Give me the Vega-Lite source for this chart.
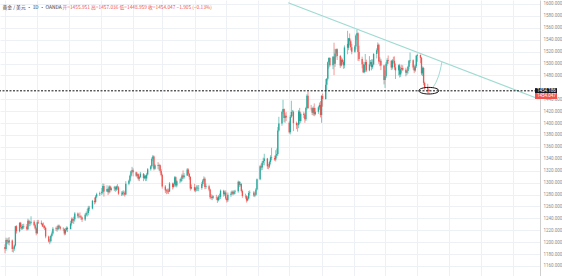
{
"$schema": "https://vega.github.io/schema/vega-lite/v6.json",
"width": 540, "height": 276,
"autosize": {"type": "none"},
"padding": {"left": 0, "top": 0, "right": 22, "bottom": 0},
"background": "white",
"config": {"view": {"stroke": null}, "font": "Noto Sans CJK SC", "axis": {"labelOverlap": false}},
"datasets": {
"candles": [
{"d":"2018-10-01","o":1192.0,"h":1196.5,"l":1181.5,"c":1188.5},
{"d":"2018-10-02","o":1188.5,"h":1207.5,"l":1185.5,"c":1203.6},
{"d":"2018-10-03","o":1203.6,"h":1206.0,"l":1196.5,"c":1202.0},
{"d":"2018-10-04","o":1202.0,"h":1207.5,"l":1196.0,"c":1199.5},
{"d":"2018-10-05","o":1199.5,"h":1208.5,"l":1194.5,"c":1203.2},
{"d":"2018-10-08","o":1203.0,"h":1204.5,"l":1183.5,"c":1188.6},
{"d":"2018-10-09","o":1188.6,"h":1192.5,"l":1182.5,"c":1189.0},
{"d":"2018-10-10","o":1189.0,"h":1196.0,"l":1185.5,"c":1194.4},
{"d":"2018-10-11","o":1194.4,"h":1227.5,"l":1192.5,"c":1226.9},
{"d":"2018-10-12","o":1226.9,"h":1228.5,"l":1214.5,"c":1218.4},
{"d":"2018-10-15","o":1218.4,"h":1233.5,"l":1216.5,"c":1232.5},
{"d":"2018-10-16","o":1232.5,"h":1234.0,"l":1222.5,"c":1225.5},
{"d":"2018-10-17","o":1225.5,"h":1229.5,"l":1220.5,"c":1223.0},
{"d":"2018-10-18","o":1223.0,"h":1230.5,"l":1221.0,"c":1227.0},
{"d":"2018-10-19","o":1227.0,"h":1231.0,"l":1222.5,"c":1226.4},
{"d":"2018-10-22","o":1226.4,"h":1230.5,"l":1219.5,"c":1221.8},
{"d":"2018-10-23","o":1221.8,"h":1239.5,"l":1220.0,"c":1236.1},
{"d":"2018-10-24","o":1236.1,"h":1238.0,"l":1226.5,"c":1231.5},
{"d":"2018-10-25","o":1231.5,"h":1235.5,"l":1227.0,"c":1232.5},
{"d":"2018-10-26","o":1232.5,"h":1243.5,"l":1229.5,"c":1234.2},
{"d":"2018-10-29","o":1234.2,"h":1237.0,"l":1226.5,"c":1228.5},
{"d":"2018-10-30","o":1228.5,"h":1231.0,"l":1221.0,"c":1223.0},
{"d":"2018-10-31","o":1223.0,"h":1225.0,"l":1211.5,"c":1215.0},
{"d":"2018-11-01","o":1215.0,"h":1237.0,"l":1213.5,"c":1233.5},
{"d":"2018-11-02","o":1233.5,"h":1237.5,"l":1230.5,"c":1232.5},
{"d":"2018-11-05","o":1232.5,"h":1236.5,"l":1228.5,"c":1230.5},
{"d":"2018-11-06","o":1230.5,"h":1232.5,"l":1225.5,"c":1226.5},
{"d":"2018-11-07","o":1226.5,"h":1233.0,"l":1223.0,"c":1227.0},
{"d":"2018-11-08","o":1227.0,"h":1229.0,"l":1220.5,"c":1224.0},
{"d":"2018-11-09","o":1224.0,"h":1225.5,"l":1206.5,"c":1209.5},
{"d":"2018-11-12","o":1209.5,"h":1211.0,"l":1199.5,"c":1201.0},
{"d":"2018-11-13","o":1201.0,"h":1205.5,"l":1196.5,"c":1201.5},
{"d":"2018-11-14","o":1201.5,"h":1212.5,"l":1199.5,"c":1210.5},
{"d":"2018-11-15","o":1210.5,"h":1218.0,"l":1208.0,"c":1214.5},
{"d":"2018-11-16","o":1214.5,"h":1225.5,"l":1212.5,"c":1222.5},
{"d":"2018-11-19","o":1222.5,"h":1226.0,"l":1219.0,"c":1223.5},
{"d":"2018-11-20","o":1223.5,"h":1227.5,"l":1217.5,"c":1221.5},
{"d":"2018-11-21","o":1221.5,"h":1229.5,"l":1220.0,"c":1227.5},
{"d":"2018-11-22","o":1227.5,"h":1229.5,"l":1223.0,"c":1226.0},
{"d":"2018-11-23","o":1226.0,"h":1227.5,"l":1220.0,"c":1222.5},
{"d":"2018-11-26","o":1222.5,"h":1225.0,"l":1218.5,"c":1222.0},
{"d":"2018-11-27","o":1222.0,"h":1223.0,"l":1211.5,"c":1214.5},
{"d":"2018-11-28","o":1214.5,"h":1224.0,"l":1212.0,"c":1220.5},
{"d":"2018-11-29","o":1220.5,"h":1226.5,"l":1218.0,"c":1224.0},
{"d":"2018-11-30","o":1224.0,"h":1226.0,"l":1217.0,"c":1222.0},
{"d":"2018-12-03","o":1222.0,"h":1236.0,"l":1221.5,"c":1231.5},
{"d":"2018-12-04","o":1231.5,"h":1241.5,"l":1228.0,"c":1238.5},
{"d":"2018-12-05","o":1238.5,"h":1241.0,"l":1232.5,"c":1236.5},
{"d":"2018-12-06","o":1236.5,"h":1243.0,"l":1230.5,"c":1238.5},
{"d":"2018-12-07","o":1238.5,"h":1250.5,"l":1234.5,"c":1248.0},
{"d":"2018-12-10","o":1248.0,"h":1250.0,"l":1240.5,"c":1243.5},
{"d":"2018-12-11","o":1243.5,"h":1248.0,"l":1240.0,"c":1244.0},
{"d":"2018-12-12","o":1244.0,"h":1250.0,"l":1241.0,"c":1243.0},
{"d":"2018-12-13","o":1243.0,"h":1245.5,"l":1237.5,"c":1241.5},
{"d":"2018-12-14","o":1241.5,"h":1243.0,"l":1234.0,"c":1238.0},
{"d":"2018-12-17","o":1238.0,"h":1248.5,"l":1235.5,"c":1246.0},
{"d":"2018-12-18","o":1246.0,"h":1251.5,"l":1243.5,"c":1248.5},
{"d":"2018-12-19","o":1248.5,"h":1256.0,"l":1243.0,"c":1249.0},
{"d":"2018-12-20","o":1249.0,"h":1261.0,"l":1245.0,"c":1258.0},
{"d":"2018-12-21","o":1258.0,"h":1261.0,"l":1252.0,"c":1256.5},
{"d":"2018-12-24","o":1256.5,"h":1271.0,"l":1255.0,"c":1269.5},
{"d":"2018-12-26","o":1269.5,"h":1275.0,"l":1263.5,"c":1267.5},
{"d":"2018-12-27","o":1267.5,"h":1279.0,"l":1265.0,"c":1276.5},
{"d":"2018-12-28","o":1276.5,"h":1283.0,"l":1274.0,"c":1280.5},
{"d":"2018-12-31","o":1280.5,"h":1285.0,"l":1277.5,"c":1282.0},
{"d":"2019-01-02","o":1282.0,"h":1291.0,"l":1279.0,"c":1284.5},
{"d":"2019-01-03","o":1284.5,"h":1298.5,"l":1281.5,"c":1294.5},
{"d":"2019-01-04","o":1294.5,"h":1298.0,"l":1276.5,"c":1285.0},
{"d":"2019-01-07","o":1285.0,"h":1295.5,"l":1284.5,"c":1289.5},
{"d":"2019-01-08","o":1289.5,"h":1291.0,"l":1279.0,"c":1284.0},
{"d":"2019-01-09","o":1284.0,"h":1295.5,"l":1281.5,"c":1293.5},
{"d":"2019-01-10","o":1293.5,"h":1295.0,"l":1283.5,"c":1287.5},
{"d":"2019-01-11","o":1287.5,"h":1293.0,"l":1285.5,"c":1290.5},
{"d":"2019-01-14","o":1290.5,"h":1294.5,"l":1286.0,"c":1292.0},
{"d":"2019-01-15","o":1292.0,"h":1294.0,"l":1284.5,"c":1288.5},
{"d":"2019-01-16","o":1288.5,"h":1295.0,"l":1286.0,"c":1293.5},
{"d":"2019-01-17","o":1293.5,"h":1297.5,"l":1288.0,"c":1292.0},
{"d":"2019-01-18","o":1292.0,"h":1294.0,"l":1279.5,"c":1281.5},
{"d":"2019-01-21","o":1281.5,"h":1285.5,"l":1277.5,"c":1280.5},
{"d":"2019-01-22","o":1280.5,"h":1286.5,"l":1278.5,"c":1283.5},
{"d":"2019-01-23","o":1283.5,"h":1287.0,"l":1278.5,"c":1282.5},
{"d":"2019-01-24","o":1282.5,"h":1285.5,"l":1276.5,"c":1280.0},
{"d":"2019-01-25","o":1280.0,"h":1302.5,"l":1279.0,"c":1298.0},
{"d":"2019-01-28","o":1298.0,"h":1305.0,"l":1295.5,"c":1303.0},
{"d":"2019-01-29","o":1303.0,"h":1313.5,"l":1300.5,"c":1311.5},
{"d":"2019-01-30","o":1311.5,"h":1320.5,"l":1308.5,"c":1319.0},
{"d":"2019-01-31","o":1319.0,"h":1326.5,"l":1315.5,"c":1321.0},
{"d":"2019-02-01","o":1321.0,"h":1324.0,"l":1310.5,"c":1317.5},
{"d":"2019-02-04","o":1317.5,"h":1318.5,"l":1309.5,"c":1311.5},
{"d":"2019-02-05","o":1311.5,"h":1317.0,"l":1307.5,"c":1314.0},
{"d":"2019-02-06","o":1314.0,"h":1315.5,"l":1303.5,"c":1306.5},
{"d":"2019-02-07","o":1306.5,"h":1311.5,"l":1302.5,"c":1309.5},
{"d":"2019-02-08","o":1309.5,"h":1318.0,"l":1307.5,"c":1315.0},
{"d":"2019-02-11","o":1315.0,"h":1316.0,"l":1302.5,"c":1307.5},
{"d":"2019-02-12","o":1307.5,"h":1314.0,"l":1305.5,"c":1311.5},
{"d":"2019-02-13","o":1311.5,"h":1313.0,"l":1302.5,"c":1307.0},
{"d":"2019-02-14","o":1307.0,"h":1316.5,"l":1303.0,"c":1313.5},
{"d":"2019-02-15","o":1313.5,"h":1324.5,"l":1312.0,"c":1322.5},
{"d":"2019-02-18","o":1322.5,"h":1329.5,"l":1320.0,"c":1327.5},
{"d":"2019-02-19","o":1327.5,"h":1342.5,"l":1325.0,"c":1340.0},
{"d":"2019-02-20","o":1340.0,"h":1346.5,"l":1336.0,"c":1344.0},
{"d":"2019-02-21","o":1344.0,"h":1345.5,"l":1320.5,"c":1323.5},
{"d":"2019-02-22","o":1323.5,"h":1331.5,"l":1321.5,"c":1329.0},
{"d":"2019-02-25","o":1329.0,"h":1334.5,"l":1322.5,"c":1328.0},
{"d":"2019-02-26","o":1328.0,"h":1332.0,"l":1320.0,"c":1329.0},
{"d":"2019-02-27","o":1329.0,"h":1330.5,"l":1316.5,"c":1320.0},
{"d":"2019-02-28","o":1320.0,"h":1323.0,"l":1310.5,"c":1313.0},
{"d":"2019-03-01","o":1313.0,"h":1315.0,"l":1290.0,"c":1293.5},
{"d":"2019-03-04","o":1293.5,"h":1296.0,"l":1282.5,"c":1287.0},
{"d":"2019-03-05","o":1287.0,"h":1289.5,"l":1280.5,"c":1285.5},
{"d":"2019-03-06","o":1285.5,"h":1290.0,"l":1281.5,"c":1286.5},
{"d":"2019-03-07","o":1286.5,"h":1290.0,"l":1281.0,"c":1285.0},
{"d":"2019-03-08","o":1285.0,"h":1301.0,"l":1284.5,"c":1298.5},
{"d":"2019-03-11","o":1298.5,"h":1300.0,"l":1288.5,"c":1292.5},
{"d":"2019-03-12","o":1292.5,"h":1300.0,"l":1290.5,"c":1297.5},
{"d":"2019-03-13","o":1297.5,"h":1311.0,"l":1295.0,"c":1309.0},
{"d":"2019-03-14","o":1309.0,"h":1310.5,"l":1292.5,"c":1295.0},
{"d":"2019-03-15","o":1295.0,"h":1304.0,"l":1292.0,"c":1302.5},
{"d":"2019-03-18","o":1302.5,"h":1306.5,"l":1299.0,"c":1302.5},
{"d":"2019-03-19","o":1302.5,"h":1309.0,"l":1300.5,"c":1306.5},
{"d":"2019-03-20","o":1306.5,"h":1315.0,"l":1302.5,"c":1312.0},
{"d":"2019-03-21","o":1312.0,"h":1320.5,"l":1305.5,"c":1309.0},
{"d":"2019-03-22","o":1309.0,"h":1316.0,"l":1306.5,"c":1312.0},
{"d":"2019-03-25","o":1312.0,"h":1324.5,"l":1311.0,"c":1322.0},
{"d":"2019-03-26","o":1322.0,"h":1324.0,"l":1311.5,"c":1315.0},
{"d":"2019-03-27","o":1315.0,"h":1316.5,"l":1305.0,"c":1309.5},
{"d":"2019-03-28","o":1309.5,"h":1311.0,"l":1286.5,"c":1290.0},
{"d":"2019-03-29","o":1290.0,"h":1297.0,"l":1288.5,"c":1292.5},
{"d":"2019-04-01","o":1292.5,"h":1298.0,"l":1285.0,"c":1287.0},
{"d":"2019-04-02","o":1287.0,"h":1293.0,"l":1284.0,"c":1290.5},
{"d":"2019-04-03","o":1290.5,"h":1295.5,"l":1285.5,"c":1291.5},
{"d":"2019-04-04","o":1291.5,"h":1295.5,"l":1286.0,"c":1290.5},
{"d":"2019-04-05","o":1290.5,"h":1296.0,"l":1285.5,"c":1291.0},
{"d":"2019-04-08","o":1291.0,"h":1301.0,"l":1288.0,"c":1297.5},
{"d":"2019-04-09","o":1297.5,"h":1306.0,"l":1294.5,"c":1303.5},
{"d":"2019-04-10","o":1303.5,"h":1310.5,"l":1301.5,"c":1306.5},
{"d":"2019-04-11","o":1306.5,"h":1309.0,"l":1289.0,"c":1292.5},
{"d":"2019-04-12","o":1292.5,"h":1298.5,"l":1289.5,"c":1294.0},
{"d":"2019-04-15","o":1294.0,"h":1296.5,"l":1285.5,"c":1288.5},
{"d":"2019-04-16","o":1288.5,"h":1290.0,"l":1272.5,"c":1275.5},
{"d":"2019-04-17","o":1275.5,"h":1280.5,"l":1271.5,"c":1274.0},
{"d":"2019-04-18","o":1274.0,"h":1279.5,"l":1270.5,"c":1276.5},
{"d":"2019-04-19","o":1276.5,"h":1278.5,"l":1273.0,"c":1275.0},
{"d":"2019-04-22","o":1275.0,"h":1279.5,"l":1271.0,"c":1274.5},
{"d":"2019-04-23","o":1274.5,"h":1276.5,"l":1266.0,"c":1270.5},
{"d":"2019-04-24","o":1270.5,"h":1279.0,"l":1268.5,"c":1276.5},
{"d":"2019-04-25","o":1276.5,"h":1281.5,"l":1271.5,"c":1276.0},
{"d":"2019-04-26","o":1276.0,"h":1288.5,"l":1272.5,"c":1286.5},
{"d":"2019-04-29","o":1286.5,"h":1288.0,"l":1276.5,"c":1280.5},
{"d":"2019-04-30","o":1280.5,"h":1286.5,"l":1277.5,"c":1283.5},
{"d":"2019-05-01","o":1283.5,"h":1287.0,"l":1271.0,"c":1273.5},
{"d":"2019-05-02","o":1273.5,"h":1275.0,"l":1266.5,"c":1270.5},
{"d":"2019-05-03","o":1270.5,"h":1283.5,"l":1267.5,"c":1279.5},
{"d":"2019-05-06","o":1279.5,"h":1285.0,"l":1276.0,"c":1281.5},
{"d":"2019-05-07","o":1281.5,"h":1287.0,"l":1279.0,"c":1284.5},
{"d":"2019-05-08","o":1284.5,"h":1286.5,"l":1278.5,"c":1281.5},
{"d":"2019-05-09","o":1281.5,"h":1287.5,"l":1279.5,"c":1284.5},
{"d":"2019-05-10","o":1284.5,"h":1288.0,"l":1281.0,"c":1285.5},
{"d":"2019-05-13","o":1285.5,"h":1303.5,"l":1283.0,"c":1301.5},
{"d":"2019-05-14","o":1301.5,"h":1302.5,"l":1292.5,"c":1296.5},
{"d":"2019-05-15","o":1296.5,"h":1301.5,"l":1293.5,"c":1297.5},
{"d":"2019-05-16","o":1297.5,"h":1299.0,"l":1283.5,"c":1286.0},
{"d":"2019-05-17","o":1286.0,"h":1288.5,"l":1274.5,"c":1277.5},
{"d":"2019-05-20","o":1277.5,"h":1281.5,"l":1273.0,"c":1277.0},
{"d":"2019-05-21","o":1277.0,"h":1279.0,"l":1266.5,"c":1270.0},
{"d":"2019-05-22","o":1270.0,"h":1277.0,"l":1268.5,"c":1273.5},
{"d":"2019-05-23","o":1273.5,"h":1286.0,"l":1272.0,"c":1282.5},
{"d":"2019-05-24","o":1282.5,"h":1287.0,"l":1278.5,"c":1283.5},
{"d":"2019-05-28","o":1283.5,"h":1286.0,"l":1276.0,"c":1278.5},
{"d":"2019-05-29","o":1278.5,"h":1283.5,"l":1275.5,"c":1279.5},
{"d":"2019-05-30","o":1279.5,"h":1291.0,"l":1278.0,"c":1288.5},
{"d":"2019-05-31","o":1288.5,"h":1307.0,"l":1286.5,"c":1305.5},
{"d":"2019-06-03","o":1305.5,"h":1329.5,"l":1304.0,"c":1327.5},
{"d":"2019-06-04","o":1327.5,"h":1332.0,"l":1320.5,"c":1325.5},
{"d":"2019-06-05","o":1325.5,"h":1336.5,"l":1321.0,"c":1333.5},
{"d":"2019-06-06","o":1333.5,"h":1342.0,"l":1329.5,"c":1336.5},
{"d":"2019-06-07","o":1336.5,"h":1348.5,"l":1329.0,"c":1340.5},
{"d":"2019-06-10","o":1340.5,"h":1341.5,"l":1323.0,"c":1327.5},
{"d":"2019-06-11","o":1327.5,"h":1331.5,"l":1322.5,"c":1327.0},
{"d":"2019-06-12","o":1327.0,"h":1337.0,"l":1324.5,"c":1334.5},
{"d":"2019-06-13","o":1334.5,"h":1346.0,"l":1330.5,"c":1342.5},
{"d":"2019-06-14","o":1342.5,"h":1358.5,"l":1337.5,"c":1341.5},
{"d":"2019-06-17","o":1341.5,"h":1345.5,"l":1336.5,"c":1339.0},
{"d":"2019-06-18","o":1339.0,"h":1354.5,"l":1335.5,"c":1345.5},
{"d":"2019-06-19","o":1345.5,"h":1357.5,"l":1341.5,"c":1348.0},
{"d":"2019-06-20","o":1348.0,"h":1393.5,"l":1345.0,"c":1387.5},
{"d":"2019-06-21","o":1387.5,"h":1410.5,"l":1385.5,"c":1399.5},
{"d":"2019-06-24","o":1399.5,"h":1421.0,"l":1395.5,"c":1418.5},
{"d":"2019-06-25","o":1418.5,"h":1439.0,"l":1415.5,"c":1423.5},
{"d":"2019-06-26","o":1423.5,"h":1424.5,"l":1401.5,"c":1408.5},
{"d":"2019-06-27","o":1408.5,"h":1416.5,"l":1400.5,"c":1412.5},
{"d":"2019-06-28","o":1412.5,"h":1418.5,"l":1403.5,"c":1409.5},
{"d":"2019-07-01","o":1400.5,"h":1403.0,"l":1382.5,"c":1384.5},
{"d":"2019-07-02","o":1384.5,"h":1413.5,"l":1381.0,"c":1410.5},
{"d":"2019-07-03","o":1410.5,"h":1437.5,"l":1408.5,"c":1418.5},
{"d":"2019-07-04","o":1418.5,"h":1422.0,"l":1411.5,"c":1419.0},
{"d":"2019-07-05","o":1419.0,"h":1421.0,"l":1386.5,"c":1400.0},
{"d":"2019-07-08","o":1400.0,"h":1402.5,"l":1390.0,"c":1396.5},
{"d":"2019-07-09","o":1396.5,"h":1400.5,"l":1385.5,"c":1397.0},
{"d":"2019-07-10","o":1397.0,"h":1422.0,"l":1391.5,"c":1419.5},
{"d":"2019-07-11","o":1419.5,"h":1425.5,"l":1398.5,"c":1403.5},
{"d":"2019-07-12","o":1403.5,"h":1418.5,"l":1400.5,"c":1415.5},
{"d":"2019-07-15","o":1415.5,"h":1419.0,"l":1408.5,"c":1413.5},
{"d":"2019-07-16","o":1413.5,"h":1416.5,"l":1400.5,"c":1406.5},
{"d":"2019-07-17","o":1406.5,"h":1427.5,"l":1403.5,"c":1425.5},
{"d":"2019-07-18","o":1425.5,"h":1448.5,"l":1422.5,"c":1446.0},
{"d":"2019-07-19","o":1446.0,"h":1452.5,"l":1423.5,"c":1425.5},
{"d":"2019-07-22","o":1425.5,"h":1430.5,"l":1421.0,"c":1425.0},
{"d":"2019-07-23","o":1425.0,"h":1426.5,"l":1413.5,"c":1417.5},
{"d":"2019-07-24","o":1417.5,"h":1428.0,"l":1412.5,"c":1425.5},
{"d":"2019-07-25","o":1425.5,"h":1433.0,"l":1411.5,"c":1415.0},
{"d":"2019-07-26","o":1415.0,"h":1425.5,"l":1413.0,"c":1419.0},
{"d":"2019-07-29","o":1419.0,"h":1428.5,"l":1415.5,"c":1426.5},
{"d":"2019-07-30","o":1426.5,"h":1434.5,"l":1422.5,"c":1430.5},
{"d":"2019-07-31","o":1430.5,"h":1437.0,"l":1409.5,"c":1413.5},
{"d":"2019-08-01","o":1413.5,"h":1447.0,"l":1400.5,"c":1445.5},
{"d":"2019-08-02","o":1445.5,"h":1449.5,"l":1427.5,"c":1440.5},
{"d":"2019-08-05","o":1440.5,"h":1474.0,"l":1439.5,"c":1464.5},
{"d":"2019-08-06","o":1464.5,"h":1475.5,"l":1455.5,"c":1474.5},
{"d":"2019-08-07","o":1474.5,"h":1503.5,"l":1471.5,"c":1502.0},
{"d":"2019-08-08","o":1502.0,"h":1510.5,"l":1491.5,"c":1509.5},
{"d":"2019-08-09","o":1509.5,"h":1510.5,"l":1494.5,"c":1497.0},
{"d":"2019-08-12","o":1497.0,"h":1512.5,"l":1490.5,"c":1511.5},
{"d":"2019-08-13","o":1511.5,"h":1535.0,"l":1480.5,"c":1499.5},
{"d":"2019-08-14","o":1499.5,"h":1524.5,"l":1494.5,"c":1517.0},
{"d":"2019-08-15","o":1517.0,"h":1525.0,"l":1510.5,"c":1524.0},
{"d":"2019-08-16","o":1524.0,"h":1525.5,"l":1506.0,"c":1512.5},
{"d":"2019-08-19","o":1512.5,"h":1514.5,"l":1492.5,"c":1496.5},
{"d":"2019-08-20","o":1496.5,"h":1510.5,"l":1495.0,"c":1506.5},
{"d":"2019-08-21","o":1506.5,"h":1508.5,"l":1498.5,"c":1502.5},
{"d":"2019-08-22","o":1502.5,"h":1505.5,"l":1491.0,"c":1497.0},
{"d":"2019-08-23","o":1497.0,"h":1530.5,"l":1492.0,"c":1527.0},
{"d":"2019-08-26","o":1533.0,"h":1555.0,"l":1515.5,"c":1526.5},
{"d":"2019-08-27","o":1526.5,"h":1543.0,"l":1522.5,"c":1542.5},
{"d":"2019-08-28","o":1542.5,"h":1550.5,"l":1530.5,"c":1537.5},
{"d":"2019-08-29","o":1537.5,"h":1540.0,"l":1522.0,"c":1527.5},
{"d":"2019-08-30","o":1527.5,"h":1533.0,"l":1515.5,"c":1520.0},
{"d":"2019-09-02","o":1520.0,"h":1531.0,"l":1518.0,"c":1528.5},
{"d":"2019-09-03","o":1528.5,"h":1549.0,"l":1523.5,"c":1547.0},
{"d":"2019-09-04","o":1547.0,"h":1557.0,"l":1539.5,"c":1551.0},
{"d":"2019-09-05","o":1551.0,"h":1552.5,"l":1504.5,"c":1519.5},
{"d":"2019-09-06","o":1519.5,"h":1530.0,"l":1504.0,"c":1507.5},
{"d":"2019-09-09","o":1507.5,"h":1511.5,"l":1492.0,"c":1499.0},
{"d":"2019-09-10","o":1499.0,"h":1503.0,"l":1484.0,"c":1485.5},
{"d":"2019-09-11","o":1485.5,"h":1499.5,"l":1483.5,"c":1497.5},
{"d":"2019-09-12","o":1497.5,"h":1516.0,"l":1485.5,"c":1502.5},
{"d":"2019-09-13","o":1502.5,"h":1506.5,"l":1485.5,"c":1488.5},
{"d":"2019-09-16","o":1488.5,"h":1512.5,"l":1487.0,"c":1498.5},
{"d":"2019-09-17","o":1498.5,"h":1506.0,"l":1495.5,"c":1502.5},
{"d":"2019-09-18","o":1502.5,"h":1507.0,"l":1488.5,"c":1494.0},
{"d":"2019-09-19","o":1494.0,"h":1507.0,"l":1491.0,"c":1498.5},
{"d":"2019-09-20","o":1498.5,"h":1517.5,"l":1497.0,"c":1516.0},
{"d":"2019-09-23","o":1516.0,"h":1525.5,"l":1508.5,"c":1522.5},
{"d":"2019-09-24","o":1522.5,"h":1535.5,"l":1518.5,"c":1531.5},
{"d":"2019-09-25","o":1531.5,"h":1533.5,"l":1499.5,"c":1503.5},
{"d":"2019-09-26","o":1503.5,"h":1511.0,"l":1495.5,"c":1504.5},
{"d":"2019-09-27","o":1504.5,"h":1508.0,"l":1489.0,"c":1496.5},
{"d":"2019-09-30","o":1496.5,"h":1498.0,"l":1465.0,"c":1472.5},
{"d":"2019-10-01","o":1472.5,"h":1488.5,"l":1459.0,"c":1478.5},
{"d":"2019-10-02","o":1478.5,"h":1502.5,"l":1475.5,"c":1499.5},
{"d":"2019-10-03","o":1499.5,"h":1509.0,"l":1496.0,"c":1506.0},
{"d":"2019-10-04","o":1506.0,"h":1513.5,"l":1499.5,"c":1504.5},
{"d":"2019-10-07","o":1504.5,"h":1505.5,"l":1489.0,"c":1493.5},
{"d":"2019-10-08","o":1493.5,"h":1507.5,"l":1490.0,"c":1505.0},
{"d":"2019-10-09","o":1505.0,"h":1511.5,"l":1500.0,"c":1504.5},
{"d":"2019-10-10","o":1504.5,"h":1512.0,"l":1489.5,"c":1493.5},
{"d":"2019-10-11","o":1493.5,"h":1500.0,"l":1474.0,"c":1488.5},
{"d":"2019-10-14","o":1488.5,"h":1498.5,"l":1480.0,"c":1497.0},
{"d":"2019-10-15","o":1497.0,"h":1499.5,"l":1476.5,"c":1481.5},
{"d":"2019-10-16","o":1481.5,"h":1494.0,"l":1477.5,"c":1490.5},
{"d":"2019-10-17","o":1490.5,"h":1498.0,"l":1484.5,"c":1492.5},
{"d":"2019-10-18","o":1492.5,"h":1497.0,"l":1487.5,"c":1489.5},
{"d":"2019-10-21","o":1489.5,"h":1493.0,"l":1478.5,"c":1484.5},
{"d":"2019-10-22","o":1484.5,"h":1490.0,"l":1480.5,"c":1487.5},
{"d":"2019-10-23","o":1487.5,"h":1496.5,"l":1483.0,"c":1494.5},
{"d":"2019-10-24","o":1494.5,"h":1506.0,"l":1490.0,"c":1504.5},
{"d":"2019-10-25","o":1504.5,"h":1518.5,"l":1500.5,"c":1505.5},
{"d":"2019-10-28","o":1505.5,"h":1507.0,"l":1489.5,"c":1493.5},
{"d":"2019-10-29","o":1493.5,"h":1497.0,"l":1484.0,"c":1488.5},
{"d":"2019-10-30","o":1488.5,"h":1498.5,"l":1486.0,"c":1495.5},
{"d":"2019-10-31","o":1495.5,"h":1514.5,"l":1492.5,"c":1513.0},
{"d":"2019-11-01","o":1513.0,"h":1516.5,"l":1503.0,"c":1514.5},
{"d":"2019-11-04","o":1514.5,"h":1515.0,"l":1500.5,"c":1509.5},
{"d":"2019-11-05","o":1509.5,"h":1511.0,"l":1480.5,"c":1483.5},
{"d":"2019-11-06","o":1483.5,"h":1495.0,"l":1479.0,"c":1492.5},
{"d":"2019-11-07","o":1492.5,"h":1494.5,"l":1463.5,"c":1467.5},
{"d":"2019-11-08","o":1467.5,"h":1469.5,"l":1456.0,"c":1459.5},
{"d":"2019-11-11","o":1459.5,"h":1466.0,"l":1450.5,"c":1456.5},
{"d":"2019-11-12","o":1455.951,"h":1457.036,"l":1448.959,"c":1454.047}
],
"trend": [
{"d":"2019-06-30","v":1602},
{"d":"2020-02-22","v":1443}
],
"curve": [
{"d":"2019-11-15T05:00","v":1458.5},
{"d":"2019-11-19T22:00","v":1472.5},
{"d":"2019-11-23T00:00","v":1489.0},
{"d":"2019-11-24T14:00","v":1502.5}
]
},
"layer": [
{
"data": {"name": "candles"},
"encoding": {
"x": {"field": "d", "type": "temporal",
"scale": {"domain": [{"year": 2018, "month": 10, "date": 1}, {"year": 2020, "month": 2, "date": 22}], "nice": false},
"axis": {"orient": "top", "labels": false, "ticks": false, "domain": false, "grid": true, "gridColor": "#edf1f6", "gridWidth": 1,
"tickCount": {"interval": "month", "step": 1},
"title": "开=1455.951 高=1457.036 低=1448.959 收=1454.047 −1.905 (−0.13%)",
"titleX": 62, "titleY": 7, "titleAlign": "left", "titleBaseline": "middle",
"titleColor": "#ef5350", "titleFontSize": 4.8, "titleFontWeight": "normal", "titleFont": "Noto Sans CJK SC"}},
"color": {"condition": {"test": "datum.c >= datum.o", "value": "#26a69a"}, "value": "#ef5350"}
},
"layer": [
{"mark": {"type": "rule", "strokeWidth": 0.6},
"encoding": {
"y": {"field": "l", "type": "quantitative",
"scale": {"domain": [1143.2, 1606.7], "nice": false, "zero": false},
"axis": {"orient": "right", "values": [1160,1180,1200,1220,1240,1260,1280,1300,1320,1340,1360,1380,1400,1420,1440,1480,1500,1520,1540,1560,1580,1600],
"tickCount": 40,
"format": ".3f", "labelFontSize": 4.5, "labelColor": "#8c8c8c", "labelFont": "Roboto", "labelPadding": 3, "labelOverlap": false, "labelBound": false, "labelFlush": false, "ticks": false,
"domain": true, "domainColor": "#cfcfcf", "domainWidth": 1, "grid": true, "gridColor": "#edf1f6",
"title": "黄金 / 美元 · 1D · OANDA", "titleAngle": 0, "titleX": -538, "titleY": 7, "titleAlign": "left", "titleBaseline": "middle",
"titleFontSize": 4.8, "titleFontWeight": "normal", "titleColor": "#333333", "titleFont": "Noto Sans CJK SC"}},
"y2": {"field": "h"}}},
{"mark": {"type": "bar", "width": 1.3},
"encoding": {"y": {"field": "o", "type": "quantitative"}, "y2": {"field": "c"}}}
]
},
{
"data": {"name": "trend"},
"mark": {"type": "line", "color": "#9fdbd1", "strokeWidth": 1.2},
"encoding": {"x": {"field": "d", "type": "temporal"}, "y": {"field": "v", "type": "quantitative"}}
},
{
"data": {"name": "curve"},
"mark": {"type": "line", "color": "#9fdbd1", "strokeWidth": 1, "interpolate": "monotone"},
"encoding": {"x": {"field": "d", "type": "temporal"}, "y": {"field": "v", "type": "quantitative"}}
},
{
"data": {"values": [{}]},
"mark": {"type": "rule", "color": "#111111", "strokeWidth": 1, "strokeDash": [2, 1.5]},
"encoding": {"y": {"datum": 1454.186, "type": "quantitative"}}
},
{
"data": {"values": [{}]},
"mark": {"type": "point", "shape": "M-1,0A1,0.33,0,1,1,1,0A1,0.33,0,1,1,-1,0Z", "size": 400, "filled": false, "stroke": "#111111", "strokeWidth": 1, "opacity": 1},
"encoding": {"x": {"datum": {"year": 2019, "month": 11, "date": 12}, "type": "temporal"}, "y": {"datum": 1454.4, "type": "quantitative"}}
},
{
"data": {"values": [{}]},
"mark": {"type": "point", "shape": "M0,-0.27H2.2V0.27H0Z", "size": 400, "filled": true, "fill": "#131722", "strokeWidth": 0, "opacity": 1},
"encoding": {"x": {"datum": {"year": 2020, "month": 2, "date": 22}, "type": "temporal"}, "y": {"datum": 1454.186, "type": "quantitative"}}
},
{
"data": {"values": [{}]},
"mark": {"type": "point", "shape": "M0,-0.27H2.2V0.27H0Z", "size": 400, "filled": true, "fill": "#ef5350", "strokeWidth": 0, "opacity": 1, "yOffset": 5.5},
"encoding": {"x": {"datum": {"year": 2020, "month": 2, "date": 22}, "type": "temporal"}, "y": {"datum": 1454.186, "type": "quantitative"}}
},
{
"data": {"values": [{}]},
"mark": {"type": "text", "text": "1454.186", "color": "white", "fontSize": 4.5, "font": "Roboto", "align": "left", "baseline": "middle", "dx": 2},
"encoding": {"x": {"datum": {"year": 2020, "month": 2, "date": 22}, "type": "temporal"}, "y": {"datum": 1454.186, "type": "quantitative"}}
},
{
"data": {"values": [{}]},
"mark": {"type": "text", "text": "1454.047", "color": "white", "fontSize": 4.5, "font": "Roboto", "align": "left", "baseline": "middle", "dx": 2, "dy": 5.5},
"encoding": {"x": {"datum": {"year": 2020, "month": 2, "date": 22}, "type": "temporal"}, "y": {"datum": 1454.186, "type": "quantitative"}}
}
]
}
